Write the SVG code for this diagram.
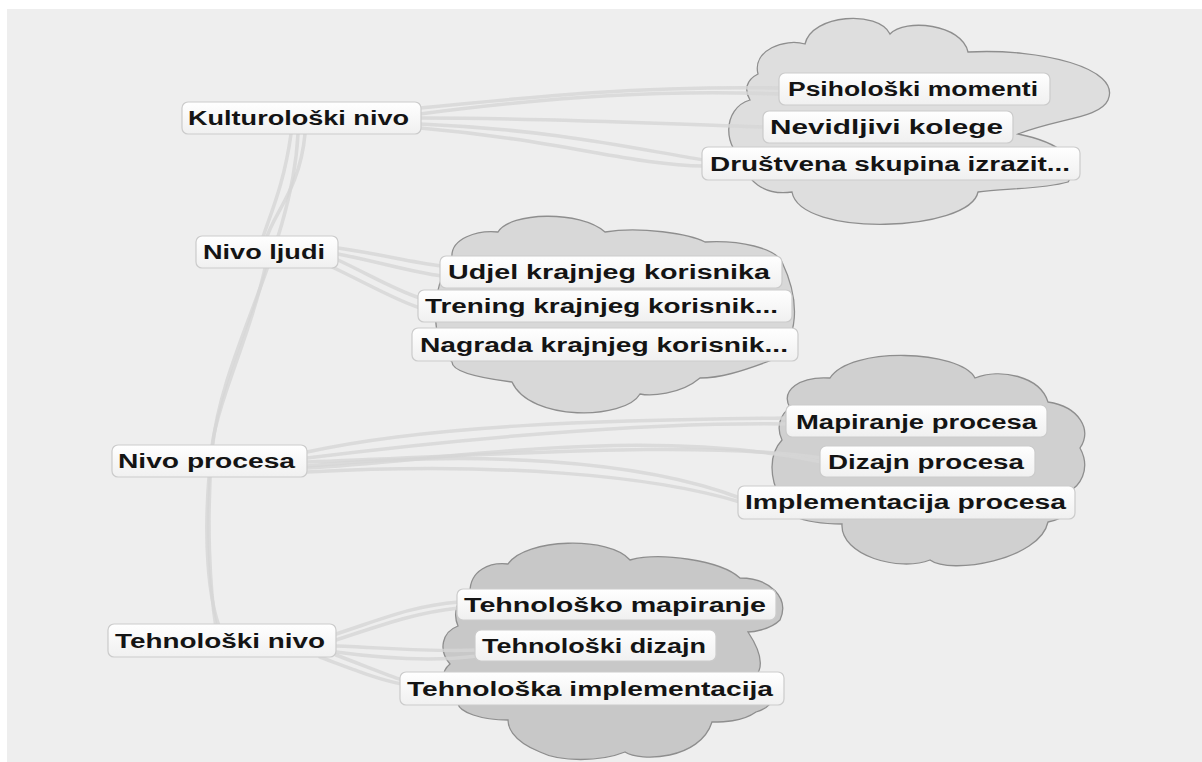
<svg xmlns="http://www.w3.org/2000/svg" width="1202" height="762" viewBox="0 0 1202 762">
<defs>
<linearGradient id="nodeGrad" x1="0" y1="0" x2="0" y2="1">
<stop offset="0" stop-color="#ffffff"/>
<stop offset="1" stop-color="#f0f0f0"/>
</linearGradient>
<style>
.cloud{stroke:#8e8e8e;stroke-width:1.3}
.edge{fill:none;stroke:#d6d6d6;stroke-width:3.5;stroke-opacity:0.8;stroke-linecap:round}
.box{fill:url(#nodeGrad);stroke:#cbcbcb;stroke-width:1.2}
.label{font-family:"Liberation Sans",Arial,sans-serif;font-weight:bold;font-size:19.5px;fill:#141414}
</style>
</defs>
<rect x="0" y="0" width="1202" height="762" fill="#ffffff"/>
<rect x="7" y="9" width="1195" height="753" fill="#eeeeee"/>

<g id="clouds">
<path id="cloud-kultura" class="cloud" fill="#dedede" d="M 758,74 C 752,50 785,38 805,44 C 812,14 878,10 890,34 C 905,18 962,24 968,52 C 1040,48 1122,68 1108,100 C 1100,118 1060,118 1018,134 C 1058,142 1084,160 1068,182 C 1040,190 1000,188 978,192 C 970,232 800,238 792,192 C 766,196 742,180 748,162 C 722,150 722,108 750,100 C 744,90 746,80 758,74 Z"/>
<path id="cloud-ljudi" class="cloud" fill="#d8d8d8" d="M 452,258 C 450,238 478,230 498,232 C 510,212 580,210 605,232 C 640,226 690,234 705,242 C 740,240 775,248 782,262 C 800,300 800,340 772,360 C 740,372 720,378 700,378 C 680,395 650,396 640,394 C 625,420 530,422 512,382 C 480,378 452,372 452,362 C 430,340 430,290 452,258 Z"/>
<path id="cloud-procesa" class="cloud" fill="#d0d0d0" d="M 790,408 C 780,390 800,376 830,378 C 850,346 960,350 975,378 C 1000,368 1040,376 1048,402 C 1080,407 1092,430 1080,448 C 1092,470 1078,488 1070,490 C 1080,510 1060,520 1048,522 C 1040,560 950,575 930,560 C 900,572 840,556 842,524 C 800,524 776,512 780,498 C 770,478 768,455 782,440 C 776,428 780,414 790,408 Z"/>
<path id="cloud-tehno" class="cloud" fill="#c8c8c8" d="M 470,592 C 470,570 490,562 508,564 C 525,538 610,536 630,560 C 660,552 720,560 740,578 C 770,578 790,598 780,620 C 770,630 752,632 748,632 C 760,650 764,666 756,676 C 780,690 776,706 756,712 C 742,722 722,722 712,722 C 700,760 640,762 625,752 C 600,762 560,762 540,752 C 510,740 508,725 508,720 C 480,720 460,712 458,704 C 440,690 440,672 450,664 C 438,650 442,632 458,626 C 452,612 458,598 470,592 Z"/>
</g>

<g id="connectors">
<path class="edge" d="M 298,134 C 292,250 222,350 212,450 C 206,520 210,590 216,628"/>
<path class="edge" d="M 305,134 C 300,190 272,215 266,240"/>
<path class="edge" d="M 291,134 C 284,185 270,215 262,240"/>
<path class="edge" d="M 265,268 C 252,330 218,400 212,446"/>
<path class="edge" d="M 209,477 C 204,540 208,595 219,626"/>
<path class="edge" d="M 420,108 C 540,96 640,86 781,88"/>
<path class="edge" d="M 420,114 C 560,96 660,90 781,94"/>
<path class="edge" d="M 420,118 C 560,118 660,124 765,127"/>
<path class="edge" d="M 420,124 C 560,130 640,150 704,160"/>
<path class="edge" d="M 420,128 C 560,140 630,165 704,166"/>
<path class="edge" d="M 338,248 C 380,254 410,262 442,266"/>
<path class="edge" d="M 338,254 C 380,262 410,272 442,276"/>
<path class="edge" d="M 338,260 C 370,275 395,290 420,298"/>
<path class="edge" d="M 330,266 C 370,285 395,300 420,308"/>
<path class="edge" d="M 307,452 C 430,425 600,420 788,418"/>
<path class="edge" d="M 307,458 C 450,440 640,422 788,424"/>
<path class="edge" d="M 307,462 C 500,455 700,440 822,458"/>
<path class="edge" d="M 307,468 C 450,460 640,425 822,462"/>
<path class="edge" d="M 307,466 C 480,450 640,460 740,498"/>
<path class="edge" d="M 307,472 C 500,462 650,475 740,502"/>
<path class="edge" d="M 330,636 C 380,620 410,606 459,602"/>
<path class="edge" d="M 336,640 C 390,622 420,612 459,608"/>
<path class="edge" d="M 336,646 C 390,648 430,652 477,650"/>
<path class="edge" d="M 336,652 C 380,658 430,662 477,656"/>
<path class="edge" d="M 320,657 C 360,672 380,680 402,684"/>
<path class="edge" d="M 336,655 C 370,668 390,676 402,680"/>
</g>

<g id="node-kulturoloski"><rect class="box" x="182" y="102" width="239" height="32" rx="6"/><text class="label" x="188" y="125" textLength="221" lengthAdjust="spacingAndGlyphs">Kulturološki nivo</text></g>
<g id="node-ljudi"><rect class="box" x="196" y="236" width="142" height="32" rx="6"/><text class="label" x="203" y="259" textLength="122" lengthAdjust="spacingAndGlyphs">Nivo ljudi</text></g>
<g id="node-procesa"><rect class="box" x="112" y="445" width="195" height="32" rx="6"/><text class="label" x="118" y="468" textLength="177" lengthAdjust="spacingAndGlyphs">Nivo procesa</text></g>
<g id="node-tehnoloski"><rect class="box" x="108" y="624" width="228" height="33" rx="6"/><text class="label" x="115" y="648" textLength="210" lengthAdjust="spacingAndGlyphs">Tehnološki nivo</text></g>

<g id="node-psiholoski"><rect class="box" x="779" y="73" width="271" height="32" rx="6"/><text class="label" x="788" y="96" textLength="250" lengthAdjust="spacingAndGlyphs">Psihološki momenti</text></g>
<g id="node-nevidljivi"><rect class="box" x="763" y="111" width="250" height="32" rx="6"/><text class="label" x="770" y="134" textLength="233" lengthAdjust="spacingAndGlyphs">Nevidljivi kolege</text></g>
<g id="node-drustvena"><rect class="box" x="702" y="147" width="378" height="33" rx="6"/><text class="label" x="710" y="171" textLength="360" lengthAdjust="spacingAndGlyphs">Društvena skupina izrazit...</text></g>

<g id="node-udjel"><rect class="box" x="440" y="256" width="342" height="32" rx="6"/><text class="label" x="448" y="279" textLength="322" lengthAdjust="spacingAndGlyphs">Udjel krajnjeg korisnika</text></g>
<g id="node-trening"><rect class="box" x="418" y="290" width="374" height="32" rx="6"/><text class="label" x="425" y="313" textLength="353" lengthAdjust="spacingAndGlyphs">Trening krajnjeg korisnik...</text></g>
<g id="node-nagrada"><rect class="box" x="412" y="328" width="386" height="33" rx="6"/><text class="label" x="420" y="352" textLength="368" lengthAdjust="spacingAndGlyphs">Nagrada krajnjeg korisnik...</text></g>

<g id="node-mapiranje"><rect class="box" x="786" y="405" width="261" height="32" rx="6"/><text class="label" x="796" y="429" textLength="241" lengthAdjust="spacingAndGlyphs">Mapiranje procesa</text></g>
<g id="node-dizajn"><rect class="box" x="820" y="446" width="215" height="31" rx="6"/><text class="label" x="828" y="469" textLength="196" lengthAdjust="spacingAndGlyphs">Dizajn procesa</text></g>
<g id="node-implementacija"><rect class="box" x="738" y="486" width="337" height="33" rx="6"/><text class="label" x="745" y="509" textLength="321" lengthAdjust="spacingAndGlyphs">Implementacija procesa</text></g>

<g id="node-teh-mapiranje"><rect class="box" x="457" y="589" width="319" height="31" rx="6"/><text class="label" x="464" y="612" textLength="302" lengthAdjust="spacingAndGlyphs">Tehnološko mapiranje</text></g>
<g id="node-teh-dizajn"><rect class="box" x="475" y="630" width="241" height="31" rx="6"/><text class="label" x="482" y="653" textLength="224" lengthAdjust="spacingAndGlyphs">Tehnološki dizajn</text></g>
<g id="node-teh-implementacija"><rect class="box" x="400" y="672" width="384" height="33" rx="6"/><text class="label" x="407" y="696" textLength="366" lengthAdjust="spacingAndGlyphs">Tehnološka implementacija</text></g>
</svg>
